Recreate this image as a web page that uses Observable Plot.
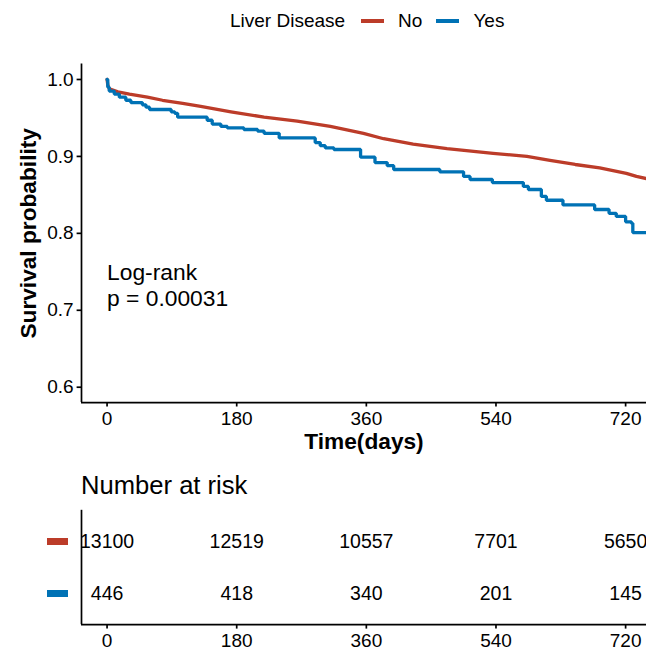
<!DOCTYPE html>
<html><head><meta charset="utf-8">
<script src="https://cdn.jsdelivr.net/npm/d3@7"></script>
<script src="https://cdn.jsdelivr.net/npm/@observablehq/plot@0.6"></script>
<style>
body{margin:0;background:#fff;font-family:"Liberation Sans",Arial,sans-serif;color:#000;}
#wrap{position:relative;width:646px;height:652px;overflow:hidden;background:#fff;}
#legend{position:absolute;left:230px;top:8px;height:26px;display:flex;align-items:center;font-size:19px;white-space:nowrap;}
#legend .sw{display:inline-block;width:23px;height:3.6px;margin:0 14px 0 0;}
#legend .lab{margin-right:14px;}
#legend .ttl{margin-right:16px;}
.rsw{position:absolute;left:47px;width:21px;height:7px;}
#risktitle{position:absolute;left:81px;top:470px;font-size:25.6px;line-height:30px;white-space:nowrap;}
</style></head><body><div id="wrap"></div>
<script>
// ---- data ----
const groups = ["No", "Yes"];
const colors = ["#BC3C29", "#0072B5"];
const legendTitle = "Liver Disease";
const xTicks = [0, 180, 360, 540, 720];
const yTicks = [0.6, 0.7, 0.8, 0.9, 1.0];
const xLabel = "Time(days)";
const yLabel = "Survival probability";
const riskTitle = "Number at risk";
const pvalText = "Log-rank\np = 0.00031";

// Kaplan-Meier, Liver Disease = No (dense step curve, read as points)
const noTime = [0, 1, 3, 15, 31, 56, 77, 105, 130, 172, 218, 264, 310, 356, 384, 425, 472, 536, 583, 615, 650, 684, 721, 735, 750];
const noSurv = [1.0, 0.993, 0.988, 0.984, 0.981, 0.977, 0.973, 0.969, 0.965, 0.958, 0.951, 0.946, 0.939, 0.930, 0.923, 0.916, 0.910, 0.904, 0.900, 0.895, 0.8895, 0.885, 0.878, 0.874, 0.871];

// Kaplan-Meier, Liver Disease = Yes (step curve)
const yesTime = [0, 1, 3, 10, 17, 26, 33, 49, 54, 59, 89, 94, 98, 139, 146, 158, 167, 190, 209, 218, 239, 289, 296, 303, 315, 352, 372, 389, 398, 462, 495, 504, 535, 578, 585, 603, 610, 633, 677, 697, 707, 720, 728, 730, 760];
const yesSurv = [1.0, 0.990, 0.985, 0.981, 0.977, 0.973, 0.970, 0.967, 0.964, 0.961, 0.958, 0.956, 0.951, 0.947, 0.942, 0.939, 0.937, 0.935, 0.933, 0.930, 0.924, 0.918, 0.914, 0.911, 0.909, 0.899, 0.892, 0.888, 0.883, 0.880, 0.874, 0.870, 0.866, 0.861, 0.857, 0.848, 0.843, 0.837, 0.831, 0.826, 0.822, 0.815, 0.813, 0.801, 0.801];

// number at risk
const riskNo = [13100, 12519, 10557, 7701, 5650];
const riskYes = [446, 418, 340, 201, 145];

// ---- build ----
const wrap = document.getElementById("wrap");
const FONT = "Liberation Sans, Arial, sans-serif";
const xDomain = [-35.5, 749];
const yDomain = [0.58, 1.02];
const AX = 1.7;

const noData = noTime.map((t, i) => ({t, s: noSurv[i], g: groups[0]}));
const yesData = yesTime.map((t, i) => ({t, s: yesSurv[i], g: groups[1]}));

const main = Plot.plot({
  width: 646, height: 460,
  marginLeft: 81, marginRight: 0, marginTop: 63.6, marginBottom: 57.9,
  style: {fontFamily: FONT, fontSize: "19px", color: "#000", background: "transparent", overflow: "visible"},
  x: {domain: xDomain},
  y: {domain: yDomain},
  color: {domain: groups, range: colors},
  marks: [
    Plot.line(noData, {x: "t", y: "s", stroke: "g", strokeWidth: 3.3, clip: true}),
    Plot.line(yesData, {x: "t", y: "s", stroke: "g", strokeWidth: 3.3, curve: "step-after", clip: true, strokeLinejoin: "miter"}),
    Plot.axisX({ticks: xTicks, tickSize: 4.4, tickPadding: 4, strokeWidth: AX, label: null}),
    Plot.axisY({ticks: yTicks, tickSize: 4.4, tickPadding: 3.5, strokeWidth: AX, tickFormat: d3.format(".1f"), label: null}),
    Plot.ruleX([xDomain[0]], {strokeWidth: AX}),
    Plot.ruleY([yDomain[0]], {strokeWidth: AX}),
    Plot.text([xLabel], {text: d => d, frameAnchor: "bottom", dy: 39, lineAnchor: "middle", textAnchor: "middle", fontWeight: "bold", fontSize: 22.7}),
    Plot.text([yLabel], {text: d => d, frameAnchor: "left", dx: -53, rotate: -90, textAnchor: "middle", lineAnchor: "middle", fontWeight: "bold", fontSize: 22.7}),
    Plot.text([pvalText], {text: d => d, x: () => xTicks[0], y: () => 0.7334, textAnchor: "start", lineAnchor: "middle", lineHeight: 1.15, fontSize: 22.8})
  ]
});
main.style.position = "absolute"; main.style.left = "0px"; main.style.top = "0px";
wrap.appendChild(main);

// top legend
const leg = document.createElement("div");
leg.id = "legend";
let html = `<span class="ttl">${legendTitle}</span>`;
groups.forEach((g, i) => {
  html += `<span class="sw" style="background:${colors[i]}"></span><span class="lab">${g}</span>`;
});
leg.innerHTML = html;
wrap.appendChild(leg);

// risk title
const rt = document.createElement("div");
rt.id = "risktitle"; rt.textContent = riskTitle;
wrap.appendChild(rt);

// risk table
const riskRows = [riskNo, riskYes];
const riskData = [];
riskRows.forEach((row, gi) => row.forEach((n, i) => riskData.push({t: xTicks[i], g: groups[gi], row: groups.length - gi, n})));
const RT = 460, RH = 192, RMT = 49.8, RMB = 27.8;
const risk = Plot.plot({
  width: 646, height: RH,
  marginLeft: 81, marginRight: 0, marginTop: RMT, marginBottom: RMB,
  style: {fontFamily: FONT, fontSize: "19px", color: "#000", background: "transparent", overflow: "visible"},
  x: {domain: xDomain},
  y: {domain: [0.4, groups.length + 0.6], axis: null},
  marks: [
    Plot.text(riskData, {x: "t", y: "row", text: d => String(d.n), fontSize: 19.5, fill: "#000"}),
    Plot.axisX({ticks: xTicks, tickSize: 4.4, tickPadding: 4, strokeWidth: AX, label: null}),
    Plot.ruleX([xDomain[0]], {strokeWidth: AX}),
    Plot.ruleY([0.4], {strokeWidth: AX})
  ]
});
risk.style.position = "absolute"; risk.style.left = "0px"; risk.style.top = RT + "px";
wrap.appendChild(risk);

// risk row swatches
const panelH = RH - RMT - RMB;
groups.forEach((g, gi) => {
  const row = groups.length - gi;
  const yc = RT + RMT + panelH * (1 - (row - 0.4) / (groups.length + 0.2));
  const d = document.createElement("div");
  d.className = "rsw";
  d.style.background = colors[gi];
  d.style.top = (yc - 3.5) + "px";
  wrap.appendChild(d);
});
</script></body></html>
